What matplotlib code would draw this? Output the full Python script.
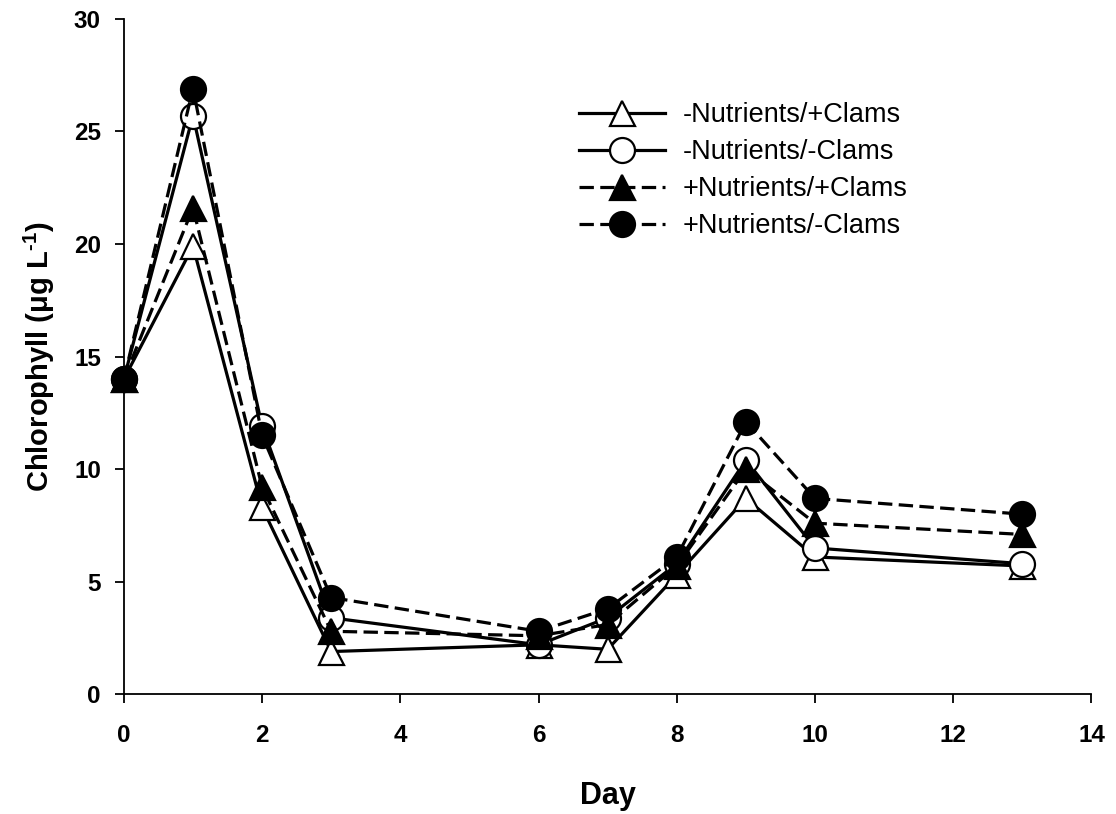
import matplotlib
matplotlib.use("Agg")
import matplotlib.pyplot as plt

plt.rcParams['font.family'] = ['Liberation Sans', 'DejaVu Sans']
plt.rcParams['mathtext.fontset'] = 'custom'
plt.rcParams['mathtext.rm'] = 'Liberation Sans:bold'
plt.rcParams['mathtext.it'] = 'Liberation Sans:bold'
plt.rcParams['mathtext.bf'] = 'Liberation Sans:bold'

# Data
days = [0, 1, 2, 3, 6, 7, 8, 9, 10, 13]
minus_nut_plus_clams = [14.0, 19.9, 8.3, 1.9, 2.2, 2.0, 5.3, 8.7, 6.1, 5.7]
minus_nut_minus_clams = [14.0, 25.7, 11.9, 3.4, 2.2, 3.4, 5.8, 10.4, 6.5, 5.8]
plus_nut_plus_clams = [14.0, 21.6, 9.2, 2.8, 2.6, 3.1, 5.7, 10.0, 7.6, 7.1]
plus_nut_minus_clams = [14.0, 26.9, 11.5, 4.3, 2.8, 3.8, 6.1, 12.1, 8.7, 8.0]

labels = ['-Nutrients/+Clams', '-Nutrients/-Clams',
          '+Nutrients/+Clams', '+Nutrients/-Clams']

fig = plt.figure(figsize=(11.16, 8.14), dpi=100)
ax = fig.add_axes([0.111, 0.147, 0.867, 0.830])

lw = 2.3
ms = 18
mew = 1.6
dash = (4.5, 2.0)

ax.plot(days, minus_nut_plus_clams, color='black', lw=lw, marker='^', ms=ms,
        mfc='white', mec='black', mew=mew, label=labels[0], zorder=3)
ax.plot(days, minus_nut_minus_clams, color='black', lw=lw, marker='o', ms=ms,
        mfc='white', mec='black', mew=mew, label=labels[1], zorder=4)
ax.plot(days, plus_nut_plus_clams, color='black', lw=lw, marker='^', ms=ms,
        mfc='black', mec='black', mew=mew, dashes=dash, label=labels[2], zorder=5)
ax.plot(days, plus_nut_minus_clams, color='black', lw=lw, marker='o', ms=ms,
        mfc='black', mec='black', mew=mew, dashes=dash, label=labels[3], zorder=6)

ax.set_xlim(0, 14)
ax.set_ylim(0, 30)
ax.set_xticks(range(0, 15, 2))
ax.set_yticks(range(0, 31, 5))

for side in ['top', 'right']:
    ax.spines[side].set_visible(False)
for side in ['left', 'bottom']:
    ax.spines[side].set_linewidth(1.3)

ax.tick_params(direction='out', length=6.5, width=1.3, labelsize=17.5)
ax.tick_params(axis='x', pad=15)
ax.tick_params(axis='y', pad=10)
for t in ax.get_xticklabels() + ax.get_yticklabels():
    t.set_fontweight('bold')

ax.set_xlabel('Day', fontsize=22, fontweight='bold', labelpad=24)
ax.set_ylabel('Chlorophyll ($\\mu$g L$^{\\text{-1}}$)', fontsize=21,
              fontweight='bold', labelpad=12)

for line in ax.get_lines():
    line.set_clip_on(False)

leg = ax.legend(loc='upper left', bbox_to_anchor=(0.470, 0.876), frameon=False,
                fontsize=19.5, handlelength=3.2, handletextpad=0.65,
                labelspacing=0.4, borderpad=0, borderaxespad=0)

fig.savefig('out.png', dpi=100)
